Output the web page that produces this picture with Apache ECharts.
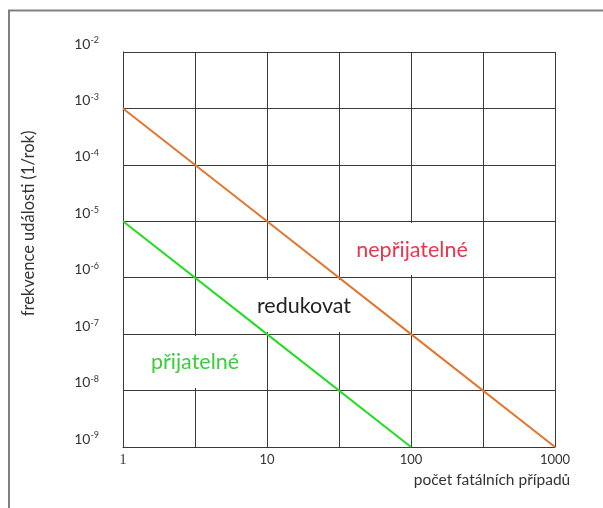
<!DOCTYPE html>
<html>
<head>
<meta charset="utf-8">
<script src="https://cdn.jsdelivr.net/npm/echarts@6/dist/echarts.min.js"></script>
<style>
  html, body { margin: 0; padding: 0; background: #fff; }
  #chart { width: 603px; height: 508px; }
</style>
</head>
<body>
<div id="chart"></div>
<script>
// F-N curve data (log-log)
const fatalities = [1, 10, 100, 1000];
const upperLimit = [1e-3, 1e-5, 1e-7, 1e-9];   // nepřijatelné boundary
const lowerFatalities = [1, 10, 100];
const lowerLimit = [1e-5, 1e-7, 1e-9];         // přijatelné boundary
const xName = 'počet fatálních případů';
const yName = 'frekvence události (1/rok)';
const zoneLabels = ['nepřijatelné', 'redukovat', 'přijatelné'];

const font = 'Lato, "Noto Sans", sans-serif';
const gridColor = '#3a3a3a';

const chart = echarts.init(document.getElementById('chart'));

const isDecade = v => Math.abs(Math.log10(v) - Math.round(Math.log10(v))) < 1e-6;

const option = {
  animation: false,
  grid: { left: 123, top: 52, width: 432, height: 395, containLabel: false },
  xAxis: {
    type: 'log',
    logBase: 10,
    min: 1,
    max: 1000,
    interval: 0.5,
    name: xName,
    nameLocation: 'middle',
    nameGap: 25,
    nameTextStyle: { fontFamily: font, fontSize: 15.5, color: '#333', padding: [0, 0, 0, 306] },
    axisLine: { show: true, lineStyle: { color: gridColor, width: 1 } },
    axisTick: { show: false },
    splitLine: { show: true, lineStyle: { color: gridColor, width: 1 } },
    axisLabel: {
      margin: 6,
      fontFamily: font,
      fontSize: 13,
      color: '#333',
      showMinLabel: true,
      showMaxLabel: true,
      formatter: v => {
        if (!isDecade(v)) return '';
        const n = Math.round(v);
        return n === 1 ? '{one|1}' : String(n);
      },
      rich: {
        one: { fontFamily: '"Liberation Serif", "DejaVu Serif", serif', fontSize: 14, color: '#333' }
      }
    }
  },
  yAxis: {
    type: 'log',
    logBase: 10,
    min: 1e-9,
    max: 1e-2,
    interval: 1,
    name: yName,
    nameLocation: 'middle',
    nameRotate: 90,
    nameGap: 86,
    nameTextStyle: { fontFamily: font, fontSize: 16.5, color: '#333', padding: [0, 0, 0, 52] },
    axisLine: { show: true, lineStyle: { color: gridColor, width: 1 } },
    axisTick: { show: false },
    splitLine: { show: true, lineStyle: { color: gridColor, width: 1 } },
    axisLabel: {
      margin: 24,
      verticalAlign: 'bottom',
      showMinLabel: true,
      showMaxLabel: true,
      formatter: v => '{b|10}{s|-' + Math.round(-Math.log10(v)) + '}',
      rich: {
        b: { fontFamily: font, fontSize: 14, color: '#333', lineHeight: 16 },
        s: { fontFamily: font, fontSize: 9, color: '#333', lineHeight: 10, verticalAlign: 'top' }
      }
    }
  },
  graphic: [
    { type: 'rect', z: 0, silent: true, shape: { x: 9, y: 10.5, width: 700, height: 700 },
      style: { fill: 'none', stroke: '#808080', lineWidth: 2 } },
    { type: 'rect', z: 1, silent: true, shape: { x: 350, y: 223, width: 124, height: 52 }, style: { fill: '#fff' } },
    { type: 'rect', z: 1, silent: true, shape: { x: 250, y: 280, width: 108, height: 52 }, style: { fill: '#fff' } },
    { type: 'rect', z: 1, silent: true, shape: { x: 145, y: 336, width: 100, height: 52 }, style: { fill: '#fff' } },
    { type: 'text', z: 1, silent: true, x: 412, y: 250,
      style: { text: zoneLabels[0], fill: '#e8374a', font: '21.5px ' + font, textAlign: 'center', textVerticalAlign: 'middle' } },
    { type: 'text', z: 1, silent: true, x: 304, y: 306,
      style: { text: zoneLabels[1], fill: '#222', font: '21.5px ' + font, textAlign: 'center', textVerticalAlign: 'middle' } },
    { type: 'text', z: 1, silent: true, x: 195, y: 362,
      style: { text: zoneLabels[2], fill: '#3ccc3c', font: '21.5px ' + font, textAlign: 'center', textVerticalAlign: 'middle' } }
  ],
  series: [
    {
      type: 'line',
      z: 3,
      data: fatalities.map((n, i) => [n, upperLimit[i]]),
      showSymbol: false,
      lineStyle: { color: '#e2762e', width: 2 }
    },
    {
      type: 'line',
      z: 3,
      data: lowerFatalities.map((n, i) => [n, lowerLimit[i]]),
      showSymbol: false,
      lineStyle: { color: '#22dd22', width: 2 }
    }
  ]
};

chart.setOption(option);
</script>
</body>
</html>
